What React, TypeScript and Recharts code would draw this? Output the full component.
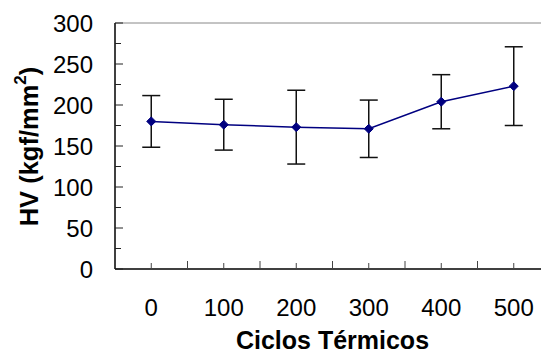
import React from 'react'
import { ErrorBar, Line, LineChart, ReferenceLine, XAxis, YAxis } from 'recharts'

const cycles = [0, 100, 200, 300, 400, 500]
const hardness = [180, 176, 173, 171, 204, 223]
const hardnessError = [31.5, 31, 45, 35, 33, 48]

const yTicks = [0, 25, 50, 75, 100, 125, 150, 175, 200, 225, 250, 275, 300]
const xTicks = [0, 50, 100, 150, 200, 250, 300, 350, 400, 450, 500]

const FONT = '"Liberation Sans", Arial, sans-serif'
const NAVY = '#000080'

const chartData = cycles.map((c, i) => ({
  cycle: c,
  hv: hardness[i],
  err: hardnessError[i],
}))

const YTick = (props: any) => {
  const { x, y, payload } = props
  const major = payload.value % 50 === 0
  return (
    <g>
      <line x1={x} y1={y} x2={x + (major ? 8 : 6)} y2={y} stroke="#222" strokeWidth={1} />
      {major && (
        <text x={x - 22} y={y + 8.5} textAnchor="end" fontSize={24} fontFamily={FONT} fill="#000">
          {payload.value}
        </text>
      )}
    </g>
  )
}

const XTick = (props: any) => {
  const { x, y, payload } = props
  const labelled = payload.value % 100 === 0
  return (
    <g>
      <line x1={x} y1={y} x2={x} y2={y - (labelled ? 6 : 8)} stroke="#444" strokeWidth={1} />
      {labelled && (
        <text x={x} y={y + 47} textAnchor="middle" fontSize={24} fontFamily={FONT} fill="#000">
          {payload.value}
        </text>
      )}
    </g>
  )
}

const Diamond = (props: any) => {
  const { cx, cy } = props
  if (cx == null || cy == null) return null
  const r = 4.5
  return <path d={`M${cx},${cy - r}L${cx + r},${cy}L${cx},${cy + r}L${cx - r},${cy}Z`} fill={NAVY} stroke={NAVY} />
}

const YTitle = (props: any) => {
  const { viewBox } = props
  const cy = viewBox.y + viewBox.height / 2 + 0.5
  const cx = 38
  return (
    <text
      x={cx}
      y={cy}
      transform={`rotate(-90, ${cx}, ${cy})`}
      textAnchor="middle"
      fontSize={25.5}
      fontWeight="bold"
      fontFamily={FONT}
      fill="#000"
    >
      HV (kgf/mm
      <tspan fontSize={17} dy={-12}>2</tspan>
      <tspan dy={12}>)</tspan>
    </text>
  )
}

const XTitle = (props: any) => {
  const { viewBox } = props
  return (
    <text
      x={viewBox.x + viewBox.width / 2}
      y={viewBox.y + 80}
      textAnchor="middle"
      fontSize={25}
      fontWeight="bold"
      fontFamily={FONT}
      fill="#000"
    >
      Ciclos Térmicos
    </text>
  )
}

export default function App() {
  return (
    <div style={{ position: 'absolute', left: 0, top: 0, width: 541, height: 356, overflow: 'hidden', background: '#fff' }}>
      <LineChart width={560} height={356} data={chartData} margin={{ top: 23, right: 10, left: 0, bottom: 0 }}>
        <XAxis
          dataKey="cycle"
          type="number"
          domain={[-50, 550]}
          ticks={xTicks}
          interval={0}
          height={87}
          tickSize={0}
          tickMargin={0}
          tick={<XTick />}
          axisLine={{ stroke: '#000', strokeWidth: 1.5 }}
          label={<XTitle />}
        />
        <YAxis
          type="number"
          domain={[0, 300]}
          ticks={yTicks}
          interval={0}
          width={115}
          tickSize={0}
          tickMargin={0}
          tick={<YTick />}
          axisLine={{ stroke: '#000', strokeWidth: 1.5 }}
          label={<YTitle />}
        />
        <ReferenceLine y={300} stroke="#888" strokeWidth={1} />
        <Line
          type="linear"
          dataKey="hv"
          stroke={NAVY}
          strokeWidth={1.5}
          dot={<Diamond />}
          activeDot={false}
          isAnimationActive={false}
        >
          <ErrorBar dataKey="err" direction="y" width={9} stroke="#111" strokeWidth={1.5} />
        </Line>
      </LineChart>
    </div>
  )
}
